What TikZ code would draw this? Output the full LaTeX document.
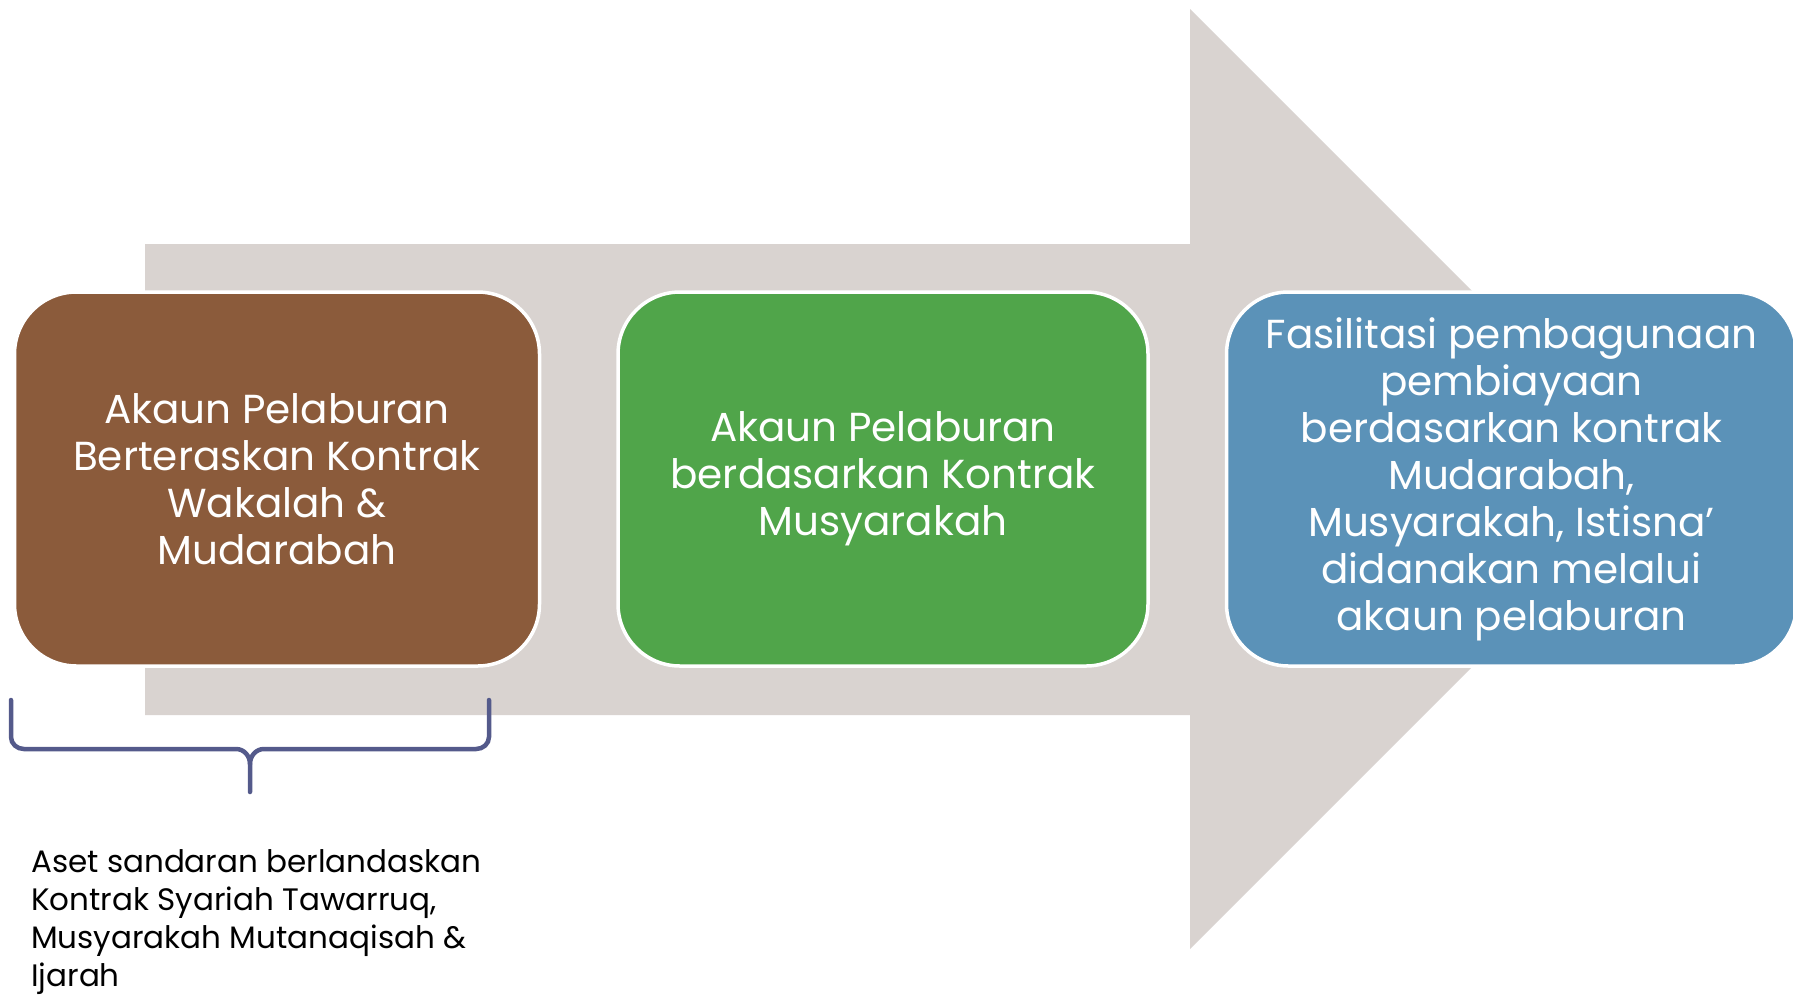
\documentclass[tikz,border=0pt]{standalone}
\usepackage{fontspec}
\setmainfont{Poppins}
\usepackage{xcolor}
\usepackage{tikz}
\usetikzlibrary{shapes, calc, positioning}

\definecolor{arrowgray}{RGB}{217,211,208}
\definecolor{stagebrown}{RGB}{139,91,59}
\definecolor{stagegreen}{RGB}{80,165,74}
\definecolor{stageblue}{RGB}{91,146,184}
\definecolor{braceblue}{RGB}{84,90,139}

\begin{document}
\begin{tikzpicture}[
  x=1pt, y=-1pt,
  every node/.style={align=center, text=white},
  stage/.style={rectangle, rounded corners=62pt, draw=white, line width=3.5pt, minimum height=374pt, inner sep=0pt, font=\fontsize{40.5}{47}\selectfont},
  bigarrow/.style={fill=arrowgray, draw=none},
  bracket/.style={draw=braceblue, line width=4.5pt, line cap=round},
  note/.style={text=black, align=left, inner sep=0pt, font=\fontsize{31}{38}\selectfont}
]
\useasboundingbox (0,0) rectangle (1793,994);

% background arrow
\fill[bigarrow] (145,244) -- (1190,244) -- (1190,9) -- (1660,479) -- (1190,949) -- (1190,715) -- (145,715) -- cycle;

\node[stage, fill=stagebrown, minimum width=525pt] (wakalah) at (277,479)
  {Akaun Pelaburan\\ Berteraskan Kontrak\\ Wakalah \&\\ Mudarabah};
\node[stage, fill=stagegreen, minimum width=530pt, right=75pt of wakalah] (musyarakah)
  {Akaun Pelaburan\\ berdasarkan Kontrak\\ Musyarakah};
\node[stage, fill=stageblue, minimum width=570pt, right=75pt of musyarakah] (fasilitasi)
  {Fasilitasi pembagunaan\\ pembiayaan\\ berdasarkan kontrak\\ Mudarabah,\\ Musyarakah, Istisna’\\ didanakan melalui\\ akaun pelaburan};

% brace under the first box
\coordinate (braceL) at (11,700);
\coordinate (braceR) at (489,700);
\coordinate (braceT) at (250,792);
\draw[bracket] (braceL) -- (11,737) to[out=-90, in=180] (24,749) -- (236,749)
  to[out=0, in=90] (braceT |- 0,764) -- (braceT);
\draw[bracket] (braceR) -- (489,737) to[out=-90, in=0] (476,749) -- (264,749)
  to[out=180, in=90] (braceT |- 0,764);

\node[note, anchor=base west] (aset) at (31,986)
  {Aset sandaran berlandaskan\\ Kontrak Syariah Tawarruq,\\ Musyarakah Mutanaqisah \&\\ Ijarah};

\end{tikzpicture}
\end{document}
